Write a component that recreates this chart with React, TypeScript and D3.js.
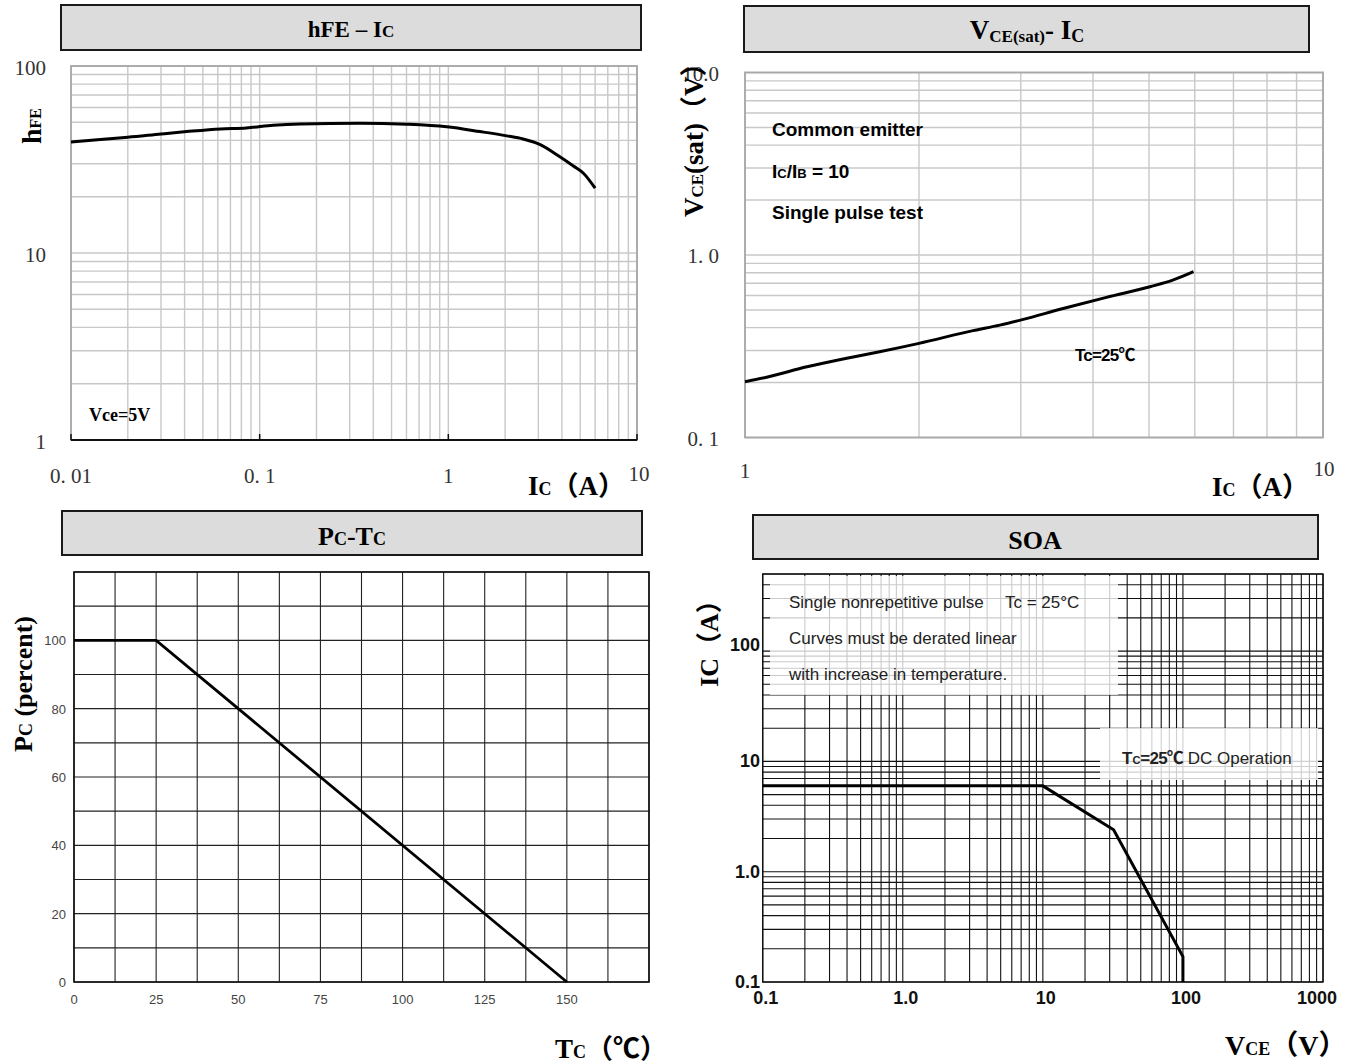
import React from 'react';
import * as d3 from 'd3';

// ---------- DATA ----------
const hfeIc = [0.01, 0.0143, 0.02, 0.03, 0.041, 0.062, 0.085, 0.118, 0.164, 0.34, 0.6, 0.98, 1.47, 2.04, 2.49, 3.05, 3.9, 4.6, 5.2, 6.0];
const hfeVal = [39.2, 40.5, 41.6, 43.3, 44.6, 46.1, 46.6, 48.2, 49, 49.4, 48.8, 47.3, 44.6, 42.3, 40.7, 38.1, 32.7, 29.2, 26.7, 22.2];

const vceIc = [1, 1.09, 1.28, 1.5, 1.71, 2.0, 2.48, 2.76, 3.03, 3.51, 4.22, 5.02, 5.51, 5.97];
const vceSat = [0.202, 0.214, 0.244, 0.272, 0.295, 0.328, 0.385, 0.413, 0.444, 0.504, 0.586, 0.67, 0.73, 0.81];

const pcTemp = [0, 25, 150];
const pcPercent = [100, 100, 0];

const soaVce = [0.1, 10, 32, 100, 100];
const soaIc = [6, 6, 2.4, 0.17, 0.1];

const hfeXTicks = [0.01, 0.1, 1, 10];
const hfeXLabels = ['0. 01', '0. 1', '1', '10'];
const hfeYTicks = [1, 10, 100];
const hfeYLabels = ['1', '10', '100'];

const vceXTicks = [1, 10];
const vceXLabels = ['1', '10'];
const vceYTicks = [0.1, 1, 10];
const vceYLabels = ['0. 1', '1. 0', '10.0'];

const pcXTicks = [0, 25, 50, 75, 100, 125, 150];
const pcYTicks = [0, 20, 40, 60, 80, 100];

const soaXTicks = [0.1, 1, 10, 100, 1000];
const soaXLabels = ['0.1', '1.0', '10', '100', '1000'];
const soaYTicks = [0.1, 1, 10, 100];
const soaYLabels = ['0.1', '1.0', '10', '100'];

// ---------- HELPERS ----------
const SERIF = "'Liberation Serif', 'Times New Roman', 'Noto Sans CJK SC', serif";
const SANS = "'Liberation Sans', Arial, 'Noto Sans CJK SC', sans-serif";

function logGrid(lo: number, hi: number): number[] {
  const out: number[] = [];
  for (let e = Math.floor(Math.log10(lo)); e <= Math.ceil(Math.log10(hi)); e++) {
    for (let m = 1; m <= 9; m++) {
      const v = m * Math.pow(10, e);
      if (v >= lo * 0.999 && v <= hi * 1.001) out.push(v);
    }
  }
  return out;
}

function linGrid(lo: number, hi: number, step: number): number[] {
  const out: number[] = [];
  for (let v = lo; v <= hi + 1e-9; v += step) out.push(v);
  return out;
}

function TitleBox({ x, y, w, h }: { x: number; y: number; w: number; h: number }) {
  return <rect x={x} y={y} width={w} height={h} fill="#dcdcdc" stroke="#1a1a1a" strokeWidth={2} />;
}

// ---------- CHART 1: hFE - Ic ----------
function HfeChart() {
  const x = d3.scaleLog().domain([0.01, 10]).range([71, 637]);
  const y = d3.scaleLog().domain([1, 100]).range([440, 66]);
  const line = d3.line<number>().x((d, i) => x(hfeIc[i])).y((d) => y(d)).curve(d3.curveMonotoneX);
  const gx = logGrid(0.01, 10);
  const gy = logGrid(1, 100);
  return (
    <g>
      <TitleBox x={61} y={5} w={580} h={45} />
      <text x={351} y={37} textAnchor="middle" fontFamily={SERIF} fontWeight="bold" fontSize={23}>
        hFE – I<tspan fontSize={17}>C</tspan>
      </text>
      {gx.map((v, i) => (
        <line key={'x' + i} x1={x(v)} x2={x(v)} y1={66} y2={440} stroke="#c8c8c8" strokeWidth={1.4} />
      ))}
      {gy.map((v, i) => (
        <line key={'y' + i} x1={71} x2={637} y1={y(v)} y2={y(v)} stroke="#c8c8c8" strokeWidth={1.4} />
      ))}
      <rect x={71} y={66} width={566} height={374} fill="none" stroke="#a8a8a8" strokeWidth={1.8} />
      <line x1={71} x2={637} y1={440} y2={440} stroke="#111" strokeWidth={1.8} />
      {hfeXTicks.map((v, i) => (
        <line key={'t' + i} x1={x(v)} x2={x(v)} y1={440} y2={434} stroke="#111" strokeWidth={1.5} />
      ))}
      <path d={line(hfeVal) || ''} fill="none" stroke="#000" strokeWidth={3} />
      {hfeYTicks.map((v, i) => (
        <text key={'yl' + i} x={46} y={y(v) + 9} textAnchor="end" fontFamily={SERIF} fontSize={21} fill="#333">
          {hfeYLabels[i]}
        </text>
      ))}
      {hfeXTicks.map((v, i) => (
        <text key={'xl' + i} x={i === hfeXTicks.length - 1 ? x(v) + 2 : x(v)} y={i === hfeXTicks.length - 1 ? 481 : 483} textAnchor="middle" fontFamily={SERIF} fontSize={21} fill="#333">
          {hfeXLabels[i]}
        </text>
      ))}
      <text transform="translate(41,126) rotate(-90)" textAnchor="middle" fontFamily={SERIF} fontWeight="bold" fontSize={28}>
        h<tspan fontSize={16}>FE</tspan>
      </text>
      <text x={528} y={495} fontFamily={SERIF} fontWeight="bold" fontSize={27}>
        I<tspan fontSize={18}>C</tspan>（A）
      </text>
      <text x={89} y={421} fontFamily={SERIF} fontWeight="bold" fontSize={18}>
        Vce=5V
      </text>
    </g>
  );
}

// ---------- CHART 2: VCE(sat) - Ic ----------
function VceChart() {
  const x = d3.scaleLog().domain([1, 10]).range([745, 1323]);
  const y = d3.scaleLog().domain([0.1, 10]).range([437.5, 72.5]);
  const line = d3.line<number>().x((d, i) => x(vceIc[i])).y((d) => y(d)).curve(d3.curveMonotoneX);
  const gx = logGrid(1, 10);
  const gy = logGrid(0.1, 10);
  return (
    <g>
      <TitleBox x={744} y={6} w={565} h={46} />
      <text x={1027} y={39} textAnchor="middle" fontFamily={SERIF} fontWeight="bold" fontSize={27}>
        V<tspan fontSize={17} dy={3}>CE(sat)</tspan>
        <tspan dy={-3}>- I</tspan>
        <tspan fontSize={18} dy={3}>C</tspan>
      </text>
      {gx.map((v, i) => (
        <line key={'x' + i} x1={x(v)} x2={x(v)} y1={72.5} y2={437.5} stroke="#c8c8c8" strokeWidth={1.4} />
      ))}
      {gy.map((v, i) => (
        <line key={'y' + i} x1={745} x2={1323} y1={y(v)} y2={y(v)} stroke="#c8c8c8" strokeWidth={1.4} />
      ))}
      <rect x={745} y={72.5} width={578} height={365} fill="none" stroke="#a8a8a8" strokeWidth={1.8} />
      <path d={line(vceSat) || ''} fill="none" stroke="#000" strokeWidth={3} />
      {vceYTicks.map((v, i) => (
        <text key={'yl' + i} x={719} y={y(v) + 8} textAnchor="end" fontFamily={SERIF} fontSize={21} fill="#333">
          {vceYLabels[i]}
        </text>
      ))}
      {vceXTicks.map((v, i) => (
        <text key={'xl' + i} x={i === 0 ? x(v) : x(v) + 1} y={i === 0 ? 478 : 476} textAnchor="middle" fontFamily={SERIF} fontSize={21} fill="#333">
          {vceXLabels[i]}
        </text>
      ))}
      <text transform="translate(703,217) rotate(-90)" textAnchor="start" fontFamily={SERIF} fontWeight="bold" fontSize={27}>
        V<tspan fontSize={17}>CE</tspan>(sat)（V）
      </text>
      <text x={1212} y={496} fontFamily={SERIF} fontWeight="bold" fontSize={27}>
        I<tspan fontSize={18}>C</tspan>（A）
      </text>
      <text x={772} y={136} fontFamily={SANS} fontWeight="bold" fontSize={19}>Common emitter</text>
      <text x={772} y={178} fontFamily={SANS} fontWeight="bold" fontSize={19}>
        I<tspan fontSize={13}>C</tspan>/I<tspan fontSize={13}>B</tspan> = 10
      </text>
      <text x={772} y={219} fontFamily={SANS} fontWeight="bold" fontSize={19}>Single pulse test</text>
      <text x={1075} y={361} fontFamily={SANS} fontWeight="bold" fontSize={17} letterSpacing={-0.8}>Tc=25℃</text>
    </g>
  );
}

// ---------- CHART 3: PC - TC ----------
function PcChart() {
  const x = d3.scaleLinear().domain([0, 175]).range([74, 649]);
  const y = d3.scaleLinear().domain([0, 120]).range([982, 572]);
  const line = d3.line<number>().x((d, i) => x(pcTemp[i])).y((d) => y(d));
  const gx = linGrid(0, 175, 12.5);
  const gy = linGrid(0, 120, 10);
  return (
    <g>
      <TitleBox x={62} y={511} w={580} h={44} />
      <text x={352} y={545} textAnchor="middle" fontFamily={SERIF} fontWeight="bold" fontSize={26}>
        P<tspan fontSize={18}>C</tspan>-T<tspan fontSize={18}>C</tspan>
      </text>
      {gx.map((v, i) => (
        <line key={'x' + i} x1={x(v)} x2={x(v)} y1={572} y2={982} stroke="#222" strokeWidth={1.1} />
      ))}
      {gy.map((v, i) => (
        <line key={'y' + i} x1={74} x2={649} y1={y(v)} y2={y(v)} stroke="#222" strokeWidth={1.1} />
      ))}
      <rect x={74} y={572} width={575} height={410} fill="none" stroke="#111" strokeWidth={1.6} />
      <path d={line(pcPercent) || ''} fill="none" stroke="#000" strokeWidth={2.8} />
      {pcYTicks.map((v, i) => (
        <text key={'yl' + i} x={66} y={y(v) + 5} textAnchor="end" fontFamily={SANS} fontSize={13} fill="#444">
          {v}
        </text>
      ))}
      {pcXTicks.map((v, i) => (
        <text key={'xl' + i} x={x(v)} y={1004} textAnchor="middle" fontFamily={SANS} fontSize={13} fill="#444">
          {v}
        </text>
      ))}
      <text transform="translate(32,684) rotate(-90)" textAnchor="middle" fontFamily={SERIF} fontWeight="bold" fontSize={26}>
        P<tspan fontSize={18}>C</tspan> (percent)
      </text>
      <text x={555} y={1058} fontFamily={SERIF} fontWeight="bold" fontSize={27}>
        T<tspan fontSize={18}>C</tspan>（℃）
      </text>
    </g>
  );
}

// ---------- CHART 4: SOA ----------
function SoaChart() {
  const x = d3.scaleLog().domain([0.1, 1000]).range([762.7, 1323]);
  const y = d3.scaleLog().domain([0.1, 500]).range([982, 574]);
  const line = d3.line<number>().x((d, i) => x(soaVce[i])).y((d) => y(d));
  const gx = logGrid(0.1, 1000);
  const gy = logGrid(0.1, 500);
  return (
    <g>
      <TitleBox x={753} y={515} w={565} h={44} />
      <text x={1035} y={549} textAnchor="middle" fontFamily={SERIF} fontWeight="bold" fontSize={26}>SOA</text>
      {gx.map((v, i) => (
        <line key={'x' + i} x1={x(v)} x2={x(v)} y1={574} y2={982} stroke="#111" strokeWidth={1.1} />
      ))}
      {gy.map((v, i) => (
        <line key={'y' + i} x1={762.7} x2={1323} y1={y(v)} y2={y(v)} stroke="#111" strokeWidth={1.1} />
      ))}
      <rect x={770} y={576} width={348} height={119} fill="#fff" fillOpacity={0.78} />
      <rect x={1100} y={728} width={218} height={52} fill="#fff" fillOpacity={0.8} />
      <rect x={762.7} y={574} width={560.3} height={408} fill="none" stroke="#111" strokeWidth={1.4} />
      <path d={line(soaIc) || ''} fill="none" stroke="#000" strokeWidth={3} />
      {soaYTicks.map((v, i) => (
        <text key={'yl' + i} x={760} y={y(v) + (i === soaYTicks.length - 1 ? 0 : 6)} textAnchor="end" fontFamily={SANS} fontWeight="bold" fontSize={18} fill="#111">
          {soaYLabels[i]}
        </text>
      ))}
      {soaXTicks.map((v, i) => (
        <text
          key={'xl' + i}
          x={i === soaXTicks.length - 1 ? x(v) + 14 : x(v) + 3}
          y={1004}
          textAnchor={i === soaXTicks.length - 1 ? 'end' : 'middle'}
          fontFamily={SANS}
          fontWeight="bold"
          fontSize={18}
          fill="#111"
        >
          {soaXLabels[i]}
        </text>
      ))}
      <text transform="translate(718,637) rotate(-90)" textAnchor="middle" fontFamily={SERIF} fontWeight="bold" fontSize={26}>
        IC（A）
      </text>
      <text x={1225} y={1055} fontFamily={SERIF} fontWeight="bold" fontSize={28}>
        V<tspan fontSize={18}>CE</tspan>（V）
      </text>
      <text x={789} y={608} fontFamily={SANS} fontSize={17} fill="#222">Single nonrepetitive pulse</text>
      <text x={1005} y={608} fontFamily={SANS} fontSize={17} fill="#222">Tc = 25°C</text>
      <text x={789} y={644} fontFamily={SANS} fontSize={17} fill="#222">Curves must be derated linear</text>
      <text x={789} y={680} fontFamily={SANS} fontSize={17} fill="#222">with increase in temperature.</text>
      <text x={1122} y={764} fontFamily={SANS} fontSize={17} fill="#222">
        <tspan fontWeight="bold">T</tspan>
        <tspan fontWeight="bold" fontSize={11}>C</tspan>
        <tspan fontWeight="bold" letterSpacing={-0.8}>=25℃</tspan> DC Operation
      </text>
    </g>
  );
}

export default function App() {
  return (
    <svg
      width={1355}
      height={1064}
      viewBox="0 0 1355 1064"
      style={{ position: 'absolute', left: 0, top: 0, background: '#fff', display: 'block' }}
    >
      <rect x={0} y={0} width={1355} height={1064} fill="#fff" />
      <HfeChart />
      <VceChart />
      <PcChart />
      <SoaChart />
    </svg>
  );
}
